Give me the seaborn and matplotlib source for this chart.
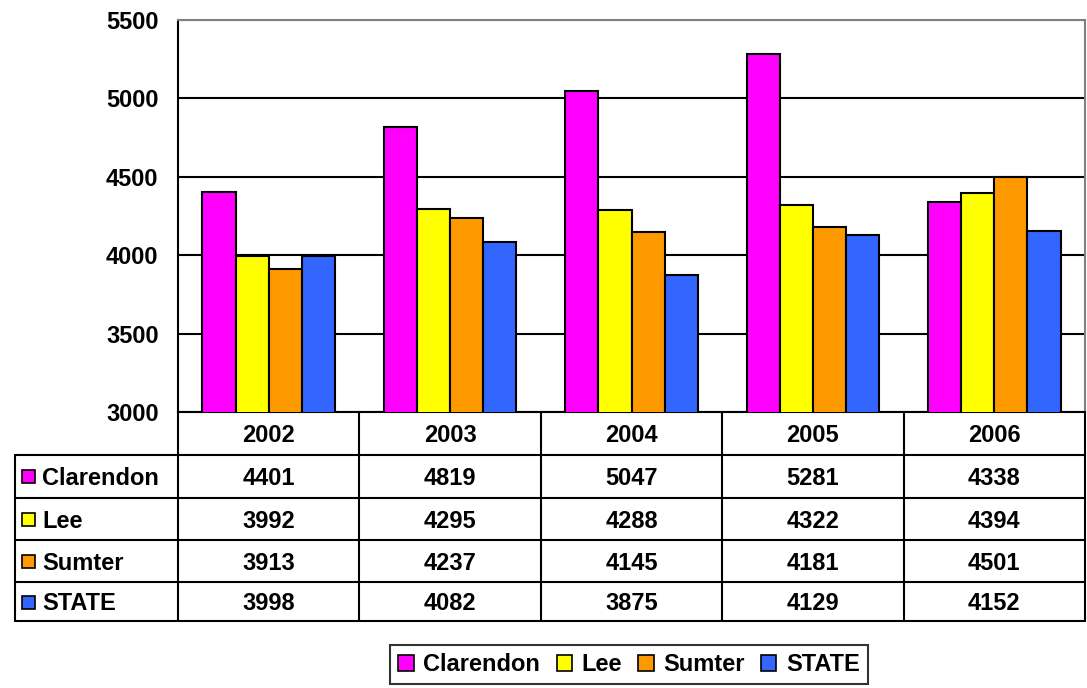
import pandas as pd
import matplotlib.pyplot as plt
import seaborn as sns
from matplotlib.patches import Patch, Rectangle
from matplotlib.transforms import blended_transform_factory

# data
years = ['2002', '2003', '2004', '2005', '2006']
areas = ['Clarendon', 'Lee', 'Sumter', 'STATE']
clarendon = [4401, 4819, 5047, 5281, 4338]
lee = [3992, 4295, 4288, 4322, 4394]
sumter = [3913, 4237, 4145, 4181, 4501]
state = [3998, 4082, 3875, 4129, 4152]
colors = ['#FF00FF', '#FFFF00', '#FF9900', '#3366FF']

series = [clarendon, lee, sumter, state]
rows = []
for name, vals in zip(areas, series):
    for y, v in zip(years, vals):
        rows.append({'Year': y, 'Area': name, 'Value': v})
df = pd.DataFrame(rows)

sns.set_style('white')
plt.rcParams['font.family'] = ['Liberation Sans', 'DejaVu Sans']
plt.rcParams['font.weight'] = 'bold'
plt.rcParams['text.color'] = 'black'
plt.rcParams['ytick.color'] = 'black'
plt.rcParams['ytick.labelcolor'] = 'black'
FS = 17

W, H = 1087, 688
fig = plt.figure(figsize=(W / 100, H / 100), dpi=100)
ax = fig.add_axes([178 / W, 1 - 412 / H, 907 / W, 392 / H])

sns.barplot(data=df, x='Year', y='Value', hue='Area', order=years, hue_order=areas,
            palette=colors, width=0.73, saturation=1, edgecolor='black',
            linewidth=1.5, legend=False, ax=ax, zorder=3)

ax.set_ylim(3000, 5500)
ax.set_xlim(-0.5, 4.5)
ax.set_yticks(range(3000, 5501, 500))
ax.yaxis.grid(True, color='black', linewidth=1.5)
ax.set_axisbelow(True)
ax.set_xlabel('')
ax.set_ylabel('')
ax.tick_params(axis='x', length=0, labelbottom=False)
ax.tick_params(axis='y', length=8, width=1.5, color='black', labelcolor='black',
               labelsize=FS, pad=6)
for lab in ax.get_yticklabels():
    lab.set_fontweight('bold')
for side in ['left', 'bottom']:
    ax.spines[side].set_color('black')
    ax.spines[side].set_linewidth(1.5)
for side in ['top', 'right']:
    ax.spines[side].set_visible(True)
    ax.spines[side].set_color('#808080')
    ax.spines[side].set_linewidth(1.5)

# data table under the axes
trans = blended_transform_factory(ax.transData, ax.transAxes)
row_px = [412, 455, 498, 540, 582, 621]
ry = [(412 - p) / 392 for p in row_px]
xl = (15 - 178) / 907
lw = 1.5
kw = dict(color='black', linewidth=lw, clip_on=False)

for k in range(1, len(ry)):
    ax.plot([xl, 1], [ry[k], ry[k]], transform=ax.transAxes, **kw)
ax.plot([xl, xl], [ry[1], ry[-1]], transform=ax.transAxes, **kw)
for b in range(len(years) + 1):
    ax.plot([b - 0.5, b - 0.5], [0, ry[-1]], transform=trans, **kw)

tkw = dict(fontsize=FS, fontweight='bold', va='center_baseline', color='black')
for i, y in enumerate(years):
    ax.text(i, (ry[0] + ry[1]) / 2, y, transform=trans, ha='center', **tkw)
for r, (name, vals, c) in enumerate(zip(areas, series, colors)):
    yc = (ry[r + 1] + ry[r + 2]) / 2
    for i, v in enumerate(vals):
        ax.text(i, yc, str(v), transform=trans, ha='center', **tkw)
    ax.add_patch(Rectangle(((22 - 178) / 907, yc - 7 / 392), 13 / 907, 13 / 392,
                           transform=ax.transAxes, facecolor=c, edgecolor='black',
                           linewidth=1.2, clip_on=False))
    ax.text((42 - 178) / 907, yc, name, transform=ax.transAxes, ha='left', **tkw)

# legend at the bottom
handles = [Patch(facecolor=c, edgecolor='black', linewidth=1.2) for c in colors]
leg = fig.legend(handles, areas, loc='center', bbox_to_anchor=(629 / W, 1 - 664.5 / H),
                 ncol=4, frameon=True, fancybox=False, edgecolor='black',
                 prop={'size': FS, 'weight': 'bold'}, handlelength=0.65, handleheight=0.65,
                 handletextpad=0.4, columnspacing=0.7, borderpad=0.35, borderaxespad=0)
leg.get_frame().set_linewidth(1.5)
for t in leg.get_texts():
    t.set_color('black')

fig.savefig('out.png', dpi=100, facecolor='white')
